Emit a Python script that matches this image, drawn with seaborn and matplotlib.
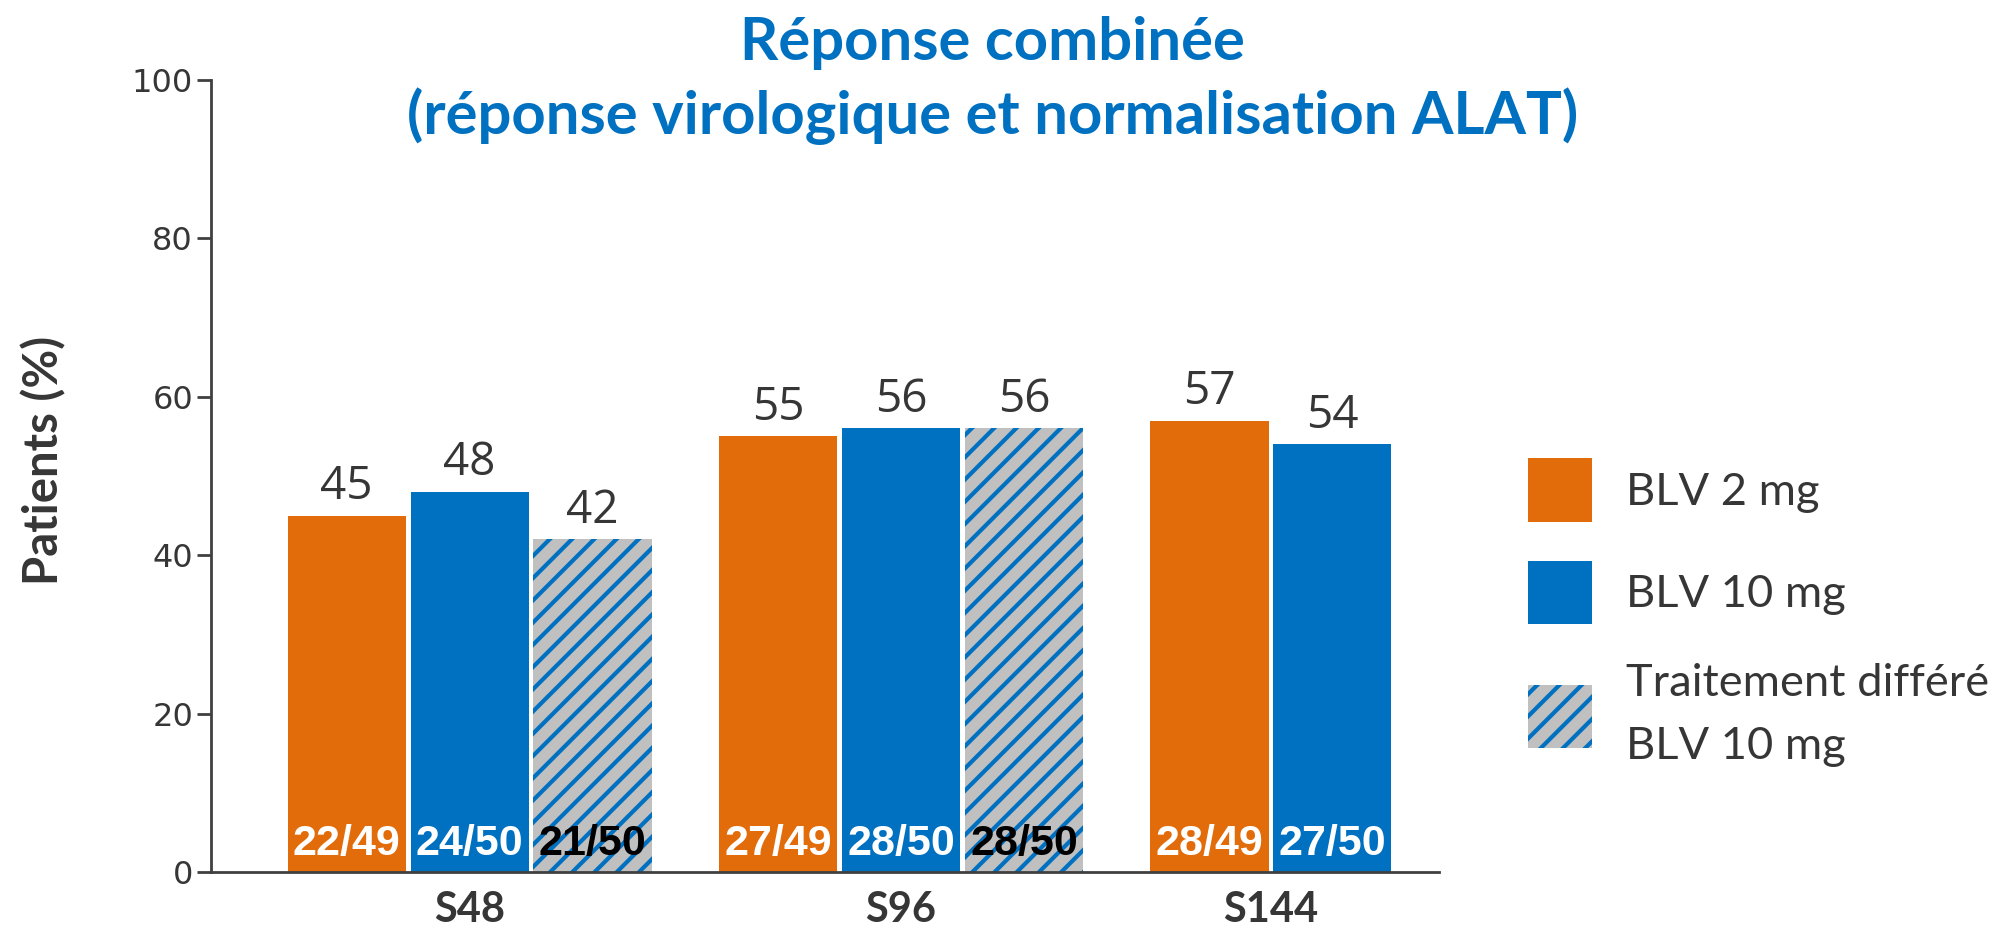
import numpy as np
import pandas as pd
import matplotlib.pyplot as plt
import seaborn as sns
from matplotlib.patches import Patch

# %%
# Data
semaines = ['S48', 'S96', 'S144']
groupes = ['BLV 2 mg', 'BLV 10 mg', 'Traitement différé\nBLV 10 mg']
pct_blv2 = [45, 55, 57]
pct_blv10 = [48, 56, 54]
pct_differe = [42, 56, None]
n_blv2 = ['22/49', '27/49', '28/49']
n_blv10 = ['24/50', '28/50', '27/50']
n_differe = ['21/50', '28/50', None]

orange = '#E36C0A'
bleu = '#0070C0'
gris = '#C0C0C0'
texte = '#363636'

rows = []
for g, vals, ns in zip(groupes, [pct_blv2, pct_blv10, pct_differe], [n_blv2, n_blv10, n_differe]):
    for s, v, n in zip(semaines, vals, ns):
        if v is not None:
            rows.append({'semaine': s, 'groupe': g, 'pct': v, 'n': n})
df = pd.DataFrame(rows)

# %%
sns.set_theme(style='white')
plt.rcParams['font.family'] = ['Lato', 'DejaVu Sans']
plt.rcParams['hatch.linewidth'] = 1.5

fig = plt.figure(figsize=(9.985, 4.65), dpi=200)
ax = fig.add_axes([0.1057, 0.0624, 0.6149, 0.8516])

sns.barplot(data=df, x='semaine', y='pct', hue='groupe', order=semaines,
            hue_order=groupes, palette=[orange, bleu, gris], saturation=1,
            width=0.855, gap=0.04, legend=False, ax=ax, linewidth=0)

# hatched bars for the deferred group
for bar in ax.containers[2]:
    bar.set_facecolor(gris)
    bar.set_edgecolor(bleu)
    bar.set_linewidth(0)
    bar.set_hatch('///')

# values on top and n/N at the bottom
for cont, g in zip(ax.containers, groupes):
    sub = df[df['groupe'] == g]
    ax.bar_label(cont, labels=[str(v) for v in sub['pct']], padding=2,
                 fontsize=16.5, color=texte, family=['Open Sans', 'DejaVu Sans'])
    col = 'black' if g == groupes[2] else 'white'
    for bar, n in zip(cont, sub['n']):
        ax.annotate(n, (bar.get_x() + bar.get_width() / 2, 0), xytext=(0, 3),
                    textcoords='offset points', ha='center', va='bottom',
                    fontsize=15.5, fontweight='bold', color=col,
                    family=['Liberation Sans', 'DejaVu Sans'])

ax.set_ylim(0, 100)
ax.set_xlim(-0.599, 2.247)
ax.set_yticks(range(0, 101, 20))

# S144 label centred under its two bars
s144 = [ax.containers[0][2], ax.containers[1][2]]
c144 = np.mean([b.get_x() + b.get_width() / 2 for b in s144])
ax.set_xticks([0, 1, c144])
ax.set_xticklabels(semaines, fontsize=15, fontweight='bold', color=texte)
ax.tick_params(axis='x', length=0, pad=7)
ax.tick_params(axis='y', length=5, width=1, color='#404040', labelsize=11.5,
               labelcolor=texte, direction='out', pad=1.5, left=True)
for lab in ax.get_yticklabels():
    lab.set_family(['DejaVu Sans'])

ax.set_xlabel('')
ax.set_ylabel('Patients (%)', fontsize=17, fontweight='bold', color=texte)
ax.yaxis.set_label_coords(-0.118, 0.519)

sns.despine(ax=ax)
for sp in ['left', 'bottom']:
    ax.spines[sp].set_color('#404040')
    ax.spines[sp].set_linewidth(1)

fig.text(0.497, 1 - 16 / 930, 'Réponse combinée\n(réponse virologique et normalisation ALAT)',
         ha='center', va='top', fontsize=21.5, fontweight='bold', color=bleu,
         linespacing=1.36)

handles = [Patch(facecolor=orange, linewidth=0),
           Patch(facecolor=bleu, linewidth=0),
           Patch(facecolor=gris, edgecolor=bleu, linewidth=0, hatch='///')]
leg = fig.legend(handles, groupes, loc='upper left', bbox_to_anchor=(0.765, 0.507),
                 frameon=False, fontsize=16.3, handlelength=1.42, handleheight=1.77,
                 handletextpad=0.76, labelspacing=0.86, borderpad=0, borderaxespad=0,
                 labelcolor=texte)
for t in leg.get_texts():
    t.set_linespacing(1.68)

fig.savefig('out.png', dpi=200)
